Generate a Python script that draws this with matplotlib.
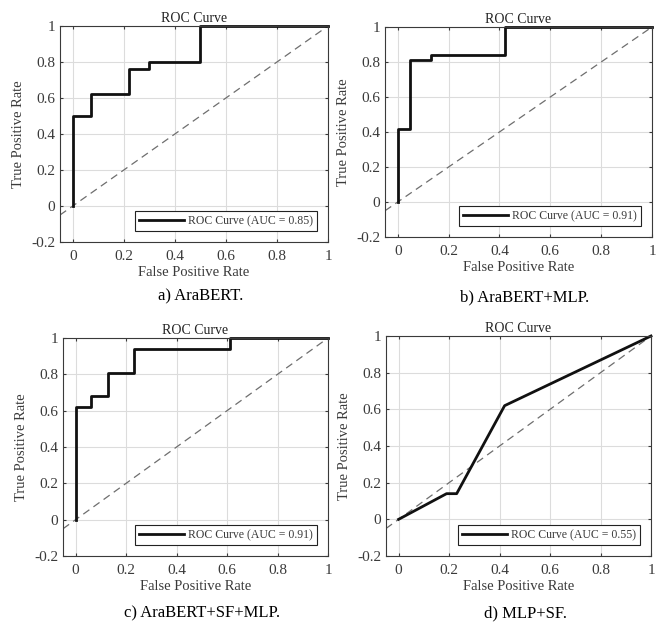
"""ROC curves for the four model variants (2x2 grid, MATLAB-like style)."""
import matplotlib
matplotlib.use("Agg")
import matplotlib.pyplot as plt

plt.rcParams["font.family"] = ["Liberation Serif", "DejaVu Serif"]

# step points
fpr_a = [0, 0, 0.07, 0.07, 0.22, 0.22, 0.30, 0.30, 0.50, 0.50, 1.0]
tpr_a = [0, 0.50, 0.50, 0.62, 0.62, 0.76, 0.76, 0.80, 0.80, 1.0, 1.0]

fpr_b = [0, 0, 0.05, 0.05, 0.13, 0.13, 0.42, 0.42, 1.0]
tpr_b = [0, 0.42, 0.42, 0.81, 0.81, 0.84, 0.84, 1.0, 1.0]

fpr_c = [0, 0, 0.06, 0.06, 0.13, 0.13, 0.23, 0.23, 0.61, 0.61, 1.0]
tpr_c = [0, 0.62, 0.62, 0.68, 0.68, 0.81, 0.81, 0.94, 0.94, 1.0, 1.0]

fpr_d = [0, 0.19, 0.23, 0.42, 1.0]
tpr_d = [0, 0.14, 0.14, 0.62, 1.0]

aucs = [0.85, 0.91, 0.91, 0.55]
captions = ["a) AraBERT.", "b) AraBERT+MLP.", "c) AraBERT+SF+MLP.", "d) MLP+SF."]
ticks = [0, 0.2, 0.4, 0.6, 0.8, 1]
yticks = [-0.2, 0, 0.2, 0.4, 0.6, 0.8, 1]

W, H = 662, 628
# axes boxes in pixels: left, top, right, bottom
boxes = [(60, 26, 328, 242), (385, 27, 652, 237),
         (63, 338, 328, 556), (386, 336, 651, 556)]
cap_y = [296, 297, 613, 613]

fig = plt.figure(figsize=(W / 100, H / 100), dpi=100)
curves = [(fpr_a, tpr_a), (fpr_b, tpr_b), (fpr_c, tpr_c), (fpr_d, tpr_d)]
grey = "#3a3a3a"


def fmt(v):
    return "0" if v == 0 else ("1" if v == 1 else f"{v:g}")


for (l, t, r, b), (fx, ty), auc, cap, cy in zip(boxes, curves, aucs, captions, cap_y):
    ax = fig.add_axes([l / W, 1 - b / H, (r - l) / W, (b - t) / H])
    ax.plot([-0.05, 1], [-0.05, 1], ls=(0, (6, 4)), color="#6e6e6e", lw=0.9)
    ax.plot(fx, ty, color="#111111", lw=2.0, clip_on=False,
            label=f"ROC Curve (AUC = {auc:.2f})")
    ax.set_xlim(-0.05, 1)
    ax.set_ylim(-0.2, 1)
    ax.set_xticks(ticks)
    ax.set_xticklabels([fmt(v) for v in ticks])
    ax.set_yticks(yticks)
    ax.set_yticklabels([fmt(v) for v in yticks])
    ax.grid(True, color="#dcdcdc", lw=0.8)
    ax.set_axisbelow(True)
    ax.tick_params(direction="in", length=2, colors=grey, labelsize=11,
                   labelcolor=grey, top=True, right=True)
    ax.tick_params(axis="x", pad=6)
    for s in ax.spines.values():
        s.set_color(grey)
        s.set_linewidth(0.8)
    ax.set_title("ROC Curve", fontsize=10, color="#222222", pad=3)
    ax.set_xlabel("False Positive Rate", fontsize=10.5, color=grey, labelpad=2)
    ax.set_ylabel("True Positive Rate", fontsize=10.5, color=grey, labelpad=4)
    leg = ax.legend(loc="lower right", fontsize=8.5, fancybox=False,
                    framealpha=1, edgecolor="#222222", handlelength=3.8,
                    borderpad=0.35, borderaxespad=0.9, handletextpad=0.4)
    leg.get_frame().set_linewidth(0.8)
    for txt in leg.get_texts():
        txt.set_color(grey)
    fig.text((l + r) / 2 / W + 0.01, 1 - cy / H, cap, ha="center", va="center",
             fontsize=12, color="black")

fig.savefig("out.png", dpi=100)
